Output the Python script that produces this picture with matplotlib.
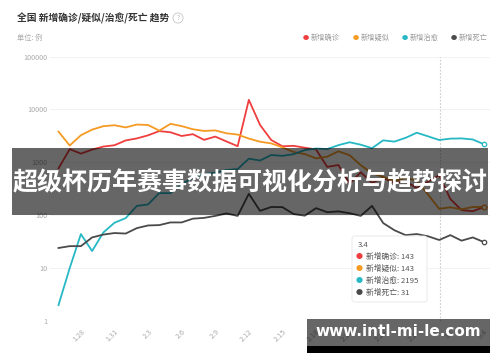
import numpy as np
import matplotlib
matplotlib.use("Agg")
import matplotlib.pyplot as plt
from matplotlib.patches import FancyBboxPatch, Rectangle

plt.rcParams['font.family'] = ['Noto Sans CJK SC', 'DejaVu Sans']

# daily data, 1.26 - 3.4
dates = ['1.26', '1.27', '1.28', '1.29', '1.30', '1.31',
         '2.1', '2.2', '2.3', '2.4', '2.5', '2.6', '2.7', '2.8', '2.9', '2.10',
         '2.11', '2.12', '2.13', '2.14', '2.15', '2.16', '2.17', '2.18', '2.19',
         '2.20', '2.21', '2.22', '2.23', '2.24', '2.25', '2.26', '2.27', '2.28',
         '2.29', '3.1', '3.2', '3.3', '3.4']
confirmed = [769, 1771, 1459, 1737, 1982, 2102, 2590, 2829, 3235, 3887, 3694,
             3143, 3399, 2656, 3062, 2478, 2015, 15152, 5090, 2641, 2009, 2048,
             1886, 1749, 820, 889, 397, 648, 409, 508, 406, 433, 327, 427, 573,
             202, 125, 119, 143]
suspected = [3806, 2077, 3248, 4148, 4812, 5019, 4562, 5173, 5072, 3971, 5328,
             4833, 4214, 3916, 4008, 3536, 3342, 2807, 2450, 2277, 1918, 1563,
             1432, 1185, 1277, 1614, 1361, 882, 620, 530, 439, 508, 452, 248,
             132, 141, 129, 143, 143]
cured = [2, 10, 44, 21, 47, 72, 88, 150, 160, 262, 261, 387, 510, 600, 632, 716,
         744, 1171, 1081, 1373, 1323, 1425, 1701, 1824, 1779, 2109, 2393, 2150,
         1850, 2600, 2460, 2900, 3622, 3100, 2640, 2800, 2830, 2700, 2195]
deaths = [24, 26, 26, 38, 43, 46, 45, 57, 64, 65, 73, 73, 86, 89, 97, 108, 97,
          254, 121, 143, 142, 105, 98, 136, 114, 118, 109, 97, 150, 71, 52, 42,
          44, 40, 34, 42, 33, 38, 31]

series_names = ['新增确诊', '新增疑似', '新增治愈', '新增死亡']
colors = ['#ef3e3e', '#f59a23', '#26b8c4', '#4a4a4a']
tooltip_date = '3.4'
tooltip_vals = [143, 143, 2195, 31]

W, H = 500, 362
fig = plt.figure(figsize=(5, 3.62), dpi=100)

ax = fig.add_axes([50 / W, 1 - 321 / H, 440 / W, (321 - 56.5) / H])
x = np.arange(len(dates))
for vals, c in zip([confirmed, suspected, cured, deaths], colors):
    ax.plot(x, vals, color=c, lw=1.3, solid_joinstyle='round', zorder=3)
    ax.plot(x[-1], vals[-1], 'o', ms=3.2, mfc='white', mec=c, mew=0.9, zorder=4)

ax.set_yscale('log')
ax.set_ylim(1, 100000)
ax.set_xlim(-0.76, 38.54)
ax.set_yticks([1, 10, 100, 1000, 10000, 100000])
ax.set_yticklabels(['1', '10', '100', '1000', '10000', '100000'])
ax.minorticks_off()
ax.set_xticks(x[2::3])
ax.set_xticklabels([dates[i] for i in x[2::3]], rotation=45, ha='right',
                   va='top', rotation_mode='anchor')
ax.tick_params(axis='both', length=0, colors='#aaaaaa', labelsize=5.2)
ax.tick_params(axis='y', pad=2)
ax.tick_params(axis='x', pad=5)
for s in ax.spines.values():
    s.set_visible(False)
ax.grid(axis='y', color='#f2f2f2', lw=0.7)
ax.axvline(34.1, color='#cccccc', lw=0.8, ls=(0, (1.5, 1.5)), zorder=2)

# title and legend
fig.text(17 / W, 1 - 18 / H, '全国 新增确诊/疑似/治愈/死亡 趋势', fontsize=7,
         fontweight='bold', color='#333333', va='center')
fig.text(178 / W, 1 - 18 / H, '?', fontsize=5, color='#bbbbbb', va='center',
         ha='center', bbox=dict(boxstyle='circle,pad=0.15', fc='white',
                                ec='#bbbbbb', lw=0.5))
fig.text(17 / W, 1 - 38 / H, '单位: 例', fontsize=5.2, color='#aaaaaa',
         va='center')
leg_x = [306, 356, 405, 454]
for lx, name, c in zip(leg_x, series_names, colors):
    fig.text(lx / W, 1 - 38 / H, '●', fontsize=4.5, color=c, va='center',
             ha='center')
    fig.text((lx + 5) / W, 1 - 38 / H, name, fontsize=5.2, color='#999999',
             va='center')

# tooltip
tip = FancyBboxPatch((352 / W, 1 - 302 / H), 75 / W, 66 / H,
                     boxstyle='round,pad=0,rounding_size=0.006',
                     transform=fig.transFigure, fc='white', ec='#e6e6e6',
                     lw=0.6, zorder=10)
fig.patches.append(tip)
fig.text(358 / W, 1 - 245 / H, tooltip_date, fontsize=5.6, color='#555555',
         va='center', zorder=11)
for k, (name, v, c) in enumerate(zip(series_names, tooltip_vals, colors)):
    yy = 1 - (257 + 12 * k) / H
    fig.text(359 / W, yy, '●', fontsize=5, color=c, va='center', ha='center',
             zorder=11)
    fig.text(366 / W, yy, f'{name}: {v}', fontsize=5.6, color='#555555',
             va='center', zorder=11)

# overlay banner
fig.patches.append(Rectangle((12 / W, 1 - 215 / H), 476 / W, 67 / H,
                             transform=fig.transFigure, fc='black',
                             alpha=0.6, zorder=20))
fig.text(250 / W, 1 - 183 / H, '超级杯历年赛事数据可视化分析与趋势探讨',
         fontsize=18, fontweight='bold', color='white', ha='center',
         va='center', zorder=21)

# watermark
fig.patches.append(Rectangle((307 / W, 1 - 346 / H), 183 / W, 27 / H,
                             transform=fig.transFigure, fc='black',
                             alpha=0.6, zorder=20))
fig.patches.append(Rectangle((307 / W, 1 - 353 / H), 183 / W, 7 / H,
                             transform=fig.transFigure, fc='black',
                             zorder=20))
fig.text(398 / W, 1 - 332 / H, 'www.intl-mi-le.com', fontsize=11,
         fontweight='bold', color='white', ha='center', va='center',
         family='DejaVu Sans', zorder=21)

fig.savefig('out.png', dpi=100)
